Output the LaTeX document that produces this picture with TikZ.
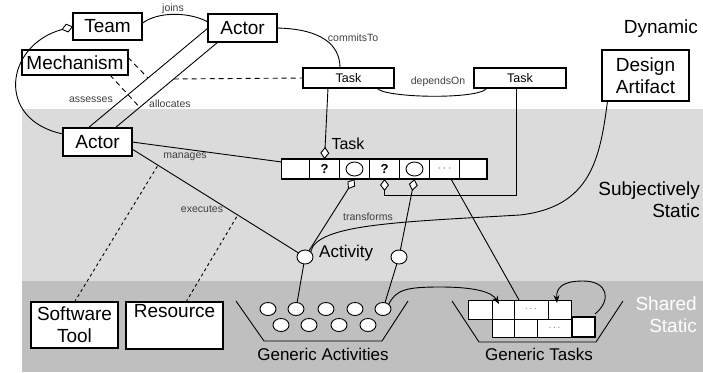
\documentclass[tikz,border=0pt]{standalone}
\usepackage{fontspec}
\setmainfont{Liberation Sans}
\usetikzlibrary{arrows.meta,shapes.geometric}

\begin{document}
\begin{tikzpicture}[x=1pt,y=-1pt,
	box/.style={draw,line width=1.2pt,fill=white,inner sep=0,outer sep=0,align=center,font=\fontsize{19}{22}\selectfont},
	small/.style={box,minimum height=20,font=\fontsize{12.5}{14}\selectfont},
	cell/.style={draw,line width=1.1pt,fill=white,inner sep=0,outer sep=0,minimum height=20,font=\fontsize{13}{14}\selectfont\bfseries},
	brick/.style={draw,line width=0.9pt,fill=white,inner sep=0,outer sep=0,minimum height=19},
	blob/.style={draw,ellipse,fill=white,inner sep=0,outer sep=0,minimum width=16,minimum height=13,line width=0.9pt},
	lbl/.style={text=black!75,font=\fontsize{10.5}{12}\selectfont,inner sep=0},
	big/.style={font=\fontsize{19}{22}\selectfont,align=right,inner sep=0},
	mid/.style={font=\fontsize{17}{20}\selectfont,inner sep=0},
	link/.style={line width=0.9pt},
	has/.style={link,-{Diamond[fill=white,length=12pt,width=9pt]}},
	note/.style={link,dash pattern=on 5pt off 4pt},
	usage/.style={link,dash pattern=on 3pt off 3pt},
	flow/.style={link,-{Stealth[length=8pt,width=6pt]}}]
	\useasboundingbox (0,0) rectangle (703,372);
	% layers
	\fill[black!14] (22,109) rectangle (703,281);
	\fill[black!25] (22,281) rectangle (703,372);
	\node[big,anchor=east] (dyn) at (698,29) {Dynamic};
	\node[big,anchor=east] (subj) at (700,199.5) {Subjectively\\Static};
	\node[big,anchor=east,text=white] (shared) at (697,314.5) {Shared\\Static};
	% dynamic
	\node[box,minimum width=69,minimum height=27] (team) at (107.5,26.5) {Team};
	\node[box,minimum width=69,minimum height=28] (actorA) at (242.5,28) {Actor};
	\node[box,minimum width=106,minimum height=25] (mech) at (75,62.5) {Mechanism};
	\node[small,minimum width=91] (taskA) at (348.5,78) {Task};
	\node[small,minimum width=92] (taskB) at (520,78) {Task};
	\node[box,minimum width=87,minimum height=51] (artifact) at (645.5,75.5) {Design\\Artifact};
	% subjectively static
	\node[box,minimum width=69,minimum height=28] (actorB) at (97.5,142) {Actor};
	\node[mid,font=\fontsize{16}{18}\selectfont] (tasklbl) at (348,144) {Task};
	\node[cell,minimum width=27.5] (c1) at (295.5,169) {};
	\node[cell,minimum width=30] (c2) at (324.5,169) {?};
	\node[cell,minimum width=30] (c3) at (354.5,169) {};
	\node[cell,minimum width=30] (c4) at (384.5,169) {?};
	\node[cell,minimum width=30] (c5) at (414.5,169) {};
	\node[cell,minimum width=30] (c6) at (444.5,169) {\textcolor{black!60}{$\cdots$}};
	\node[cell,minimum width=27.5] (c7) at (473.25,169) {};
	\node[blob,minimum width=17,minimum height=14] (o3) at (c3) {};
	\node[blob,minimum width=17,minimum height=14] (o5) at (c5) {};
	\node[blob,minimum height=14] (act) at (305,257) {};
	\node[blob,minimum height=14] (act2) at (399,257) {};
	\node[mid,anchor=west] (actlbl) at (319,253) {Activity};
	% shared static
	\node[box,minimum width=87,minimum height=46] (tool) at (74.5,325) {Software\\Tool};
	\node[box,minimum width=97,minimum height=47] (resource) at (174.5,325.5) {Resource\\\strut};
	\draw[link] (236,301) -- (264,341) -- (382,341) -- (408,301);
	\node[blob] (ga1) at (268,309) {};
	\node[blob] (ga2) at (296,309) {};
	\node[blob] (ga3) at (326,309) {};
	\node[blob] (ga4) at (355,309) {};
	\node[blob] (ga5) at (383,309) {};
	\node[blob] (ga6) at (281,325) {};
	\node[blob] (ga7) at (309,325) {};
	\node[blob] (ga8) at (339,325) {};
	\node[blob] (ga9) at (368,325) {};
	\node[mid] (galbl) at (323,354) {Generic Activities};
	\draw[link] (452,301) -- (479,342) -- (596,342) -- (623,301);
	\node[brick,minimum width=24] (gt1) at (480,309.5) {};
	\node[brick,minimum width=22] (gt2) at (503,309.5) {};
	\node[brick,minimum width=34] (gt3) at (531,309.5) {\textcolor{black!60}{$\cdots$}};
	\node[brick,minimum width=23] (gt4) at (559.5,309.5) {};
	\node[brick,minimum width=22,minimum height=18] (gt5) at (503,328) {};
	\node[brick,minimum width=23,minimum height=18] (gt6) at (525.5,328) {};
	\node[brick,minimum width=35,minimum height=18] (gt7) at (554.5,328) {\textcolor{black!60}{$\cdots$}};
	\node[brick,line width=1.2pt,minimum width=23,minimum height=20] (gt8) at (583.5,327) {};
	\node[mid] (gtlbl) at (539,354) {Generic Tasks};
	% associations
	\draw[link] ([yshift=3pt]team.east) .. controls (158,11) and (190,12) .. ([yshift=6pt]actorA.west);
	\node[lbl] (joins) at (173,9) {joins};
	\draw[link] (actorA.east) .. controls (322,29) and (340,45) .. ([xshift=-8.5pt]taskA.north);
	\node[lbl] (commits) at (353,38) {commitsTo};
	\draw[link] ([xshift=28.5pt]taskA.south) .. controls (382,98) and (480,100) .. ([xshift=-33pt]taskB.south);
	\node[lbl] (depends) at (438,82) {dependsOn};
	\draw[has] ([yshift=8pt]actorB.west) .. controls (-5,120) and (5,45) .. (team.west);
	\draw[link] ([xshift=-9.5pt]actorB.north) -- coordinate[pos=0.5] (m1) (actorA.west);
	\draw[link] ([xshift=17.5pt]actorB.north) -- coordinate[pos=0.24] (m2) coordinate[pos=0.57] (m3) ([xshift=-24.5pt]actorA.south);
	\node[lbl,anchor=east] (assesses) at (113,100) {assesses};
	\node[lbl,anchor=west] (allocates) at (149,104) {allocates};
	\draw[note] ([yshift=5pt]mech.east) -- (m1);
	\draw[note] ([xshift=-18pt]mech.south east) -- (m2);
	\draw[note] (m3) -- (taskA.west);
	\draw[has] ([xshift=-20.5pt]taskA.south) -- (c2.north);
	\draw[link] (actorB.east) -- ([yshift=7pt]c1.west);
	\node[lbl] (manages) at (185,157) {manages};
	\draw[link] ([yshift=-7pt]actorB.east) -- coordinate[pos=0.156] (e1) coordinate[pos=0.635] (e2) (act);
	\node[lbl] (executes) at (202,209) {executes};
	\draw[usage] (tool.north) -- (e1);
	\draw[usage] ([xshift=11.5pt]resource.north) -- (e2);
	\draw[has] (act) -- (c3.south);
	\draw[has] (act2) -- (c5.south);
	\draw[has] ([xshift=-4pt]taskB.south) |- ([yshift=-16pt]c4.south) -- (c4.south);
	\draw[link] (act.north east) .. controls (316,224) and (400,222) .. (520,215) .. controls (590,207) and (600,160) .. ([xshift=-38pt]artifact.south);
	\node[lbl] (transforms) at (368,217) {transforms};
	\draw[link] ([xshift=6.5pt]c6.south) -- ([xshift=5pt]gt3.north west);
	\draw[link] (act) -- (ga2);
	\draw[link] (act2) -- (ga5);
	\draw[flow] (ga5.north east) .. controls (396,290) and (405,287) .. (440,287) .. controls (475,287) and (492,292) .. ([xshift=-4pt,yshift=-4pt]gt2.north);
	\draw[flow] ([yshift=3pt]gt8.north east) .. controls (612,300) and (608,281) .. (583,281) .. controls (562,281) and (556,288) .. ([xshift=-2.5pt,yshift=-3pt]gt4.north);
\end{tikzpicture}
\end{document}
